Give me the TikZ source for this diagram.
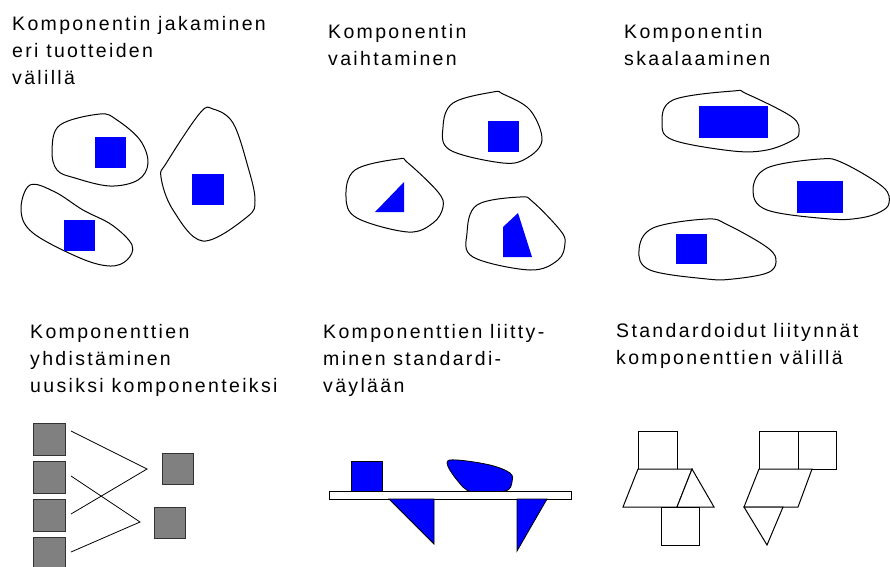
\documentclass[tikz,border=0pt]{standalone}
\usepackage{fontspec}
\setmainfont[LetterSpace=12]{Liberation Sans}
\definecolor{cblue}{HTML}{0000FF}
\definecolor{cgrey}{HTML}{808080}
\begin{document}
\begin{tikzpicture}[x=1pt,y=-1pt,
  lbl/.style={anchor=base west,align=left,inner sep=0pt,font=\fontsize{19.5}{27}\selectfont},
  blob/.style={draw=black,line width=1pt,fill=white},
  bluefill/.style={fill=cblue,draw=none},
  blueout/.style={fill=cblue,draw=black,line width=0.8pt},
  grey/.style={fill=cgrey,draw=black!80,line width=1pt},
  wire/.style={draw=black,line width=0.8pt},
  plain/.style={draw=black,line width=1pt,fill=white}]
\useasboundingbox (0,0) rectangle (890,566);
% texts (anchored at the baseline of the last line)
\node[lbl] (t1) at (12,84) {Komponentin jakaminen\\eri tuotteiden\\välillä};
\node[lbl] (t2) at (328,65) {Komponentin\\vaihtaminen};
\node[lbl] (t3) at (624,65) {Komponentin\\skaalaaminen};
\node[lbl] (t4) at (30,392) {Komponenttien\\yhdistäminen\\uusiksi komponenteiksi};
\node[lbl] (t5) at (323,392) {Komponenttien liitty-\\minen standardi-\\väylään};
\node[lbl] (t6) at (616,364) {Standardoidut liitynnät\\komponenttien välillä};
% panel 1
\draw[blob] plot[smooth cycle,tension=0.6] coordinates {(60,125) (100,114) (117,120) (140,140) (148,163) (138,180) (110,186) (75,178) (57,170) (52,150)};
\fill[bluefill] (95,137) rectangle (126,168);
\draw[blob] plot[smooth cycle,tension=0.6] coordinates {(30,185) (55,192) (83,210) (112,225) (132,245) (127,260) (110,266) (80,258) (33,233) (21,210)};
\fill[bluefill] (64,220) rectangle (95,251);
\draw[blob] plot[smooth cycle,tension=0.6] coordinates {(213,109) (233,123) (248,167) (255,200) (247,217) (203,241) (173,210) (161,177) (167,162) (200,113)};
\fill[bluefill] (192,174) rectangle (224,205);
% panel 2
\draw[blob] plot[smooth cycle,tension=0.6] coordinates {(453,103) (493,92) (503,94) (530,110) (542,140) (527,158) (503,163) (450,150) (443,127)};
\fill[bluefill] (488,121) rectangle (519,152);
\draw[blob] plot[smooth cycle,tension=0.6] coordinates {(355,170) (398,159) (408,163) (438,192) (443,207) (433,223) (408,232) (357,218) (346,197)};
\fill[bluefill] (375,212) -- (404,182) -- (404,212) -- cycle;
\draw[blob] plot[smooth cycle,tension=0.6] coordinates {(477,205) (520,197) (533,202) (560,230) (565,243) (558,260) (530,270) (473,257) (467,233)};
\fill[bluefill] (503,227) -- (518,213) -- (532,257) -- (503,257) -- cycle;
% panel 3
\draw[blob] plot[smooth cycle,tension=0.6] coordinates {(673,100) (733,91) (747,94) (792,117) (799,132) (793,140) (767,150) (733,151) (673,140) (662,123)};
\fill[bluefill] (699,106) rectangle (768,138);
\draw[blob] plot[smooth cycle,tension=0.6] coordinates {(767,168) (820,159) (843,163) (883,187) (889,203) (880,212) (860,218) (830,219) (767,210) (753,190)};
\fill[bluefill] (797,181) rectangle (843,213);
\draw[blob] plot[smooth cycle,tension=0.6] coordinates {(653,228) (707,219) (728,225) (768,248) (776,262) (767,273) (733,279) (707,279) (650,270) (639,250)};
\fill[bluefill] (676,234) rectangle (707,264);
% panel 4
\node[grey,minimum size=32pt,inner sep=0pt,anchor=north west] (g1) at (33,423) {};
\node[grey,minimum size=32pt,inner sep=0pt,anchor=north west] (g2) at (33,461) {};
\node[grey,minimum size=32pt,inner sep=0pt,anchor=north west] (g3) at (33,499) {};
\node[grey,minimum size=32pt,inner sep=0pt,anchor=north west] (g4) at (33,537) {};
\node[grey,minimum size=31pt,inner sep=0pt,anchor=north west] (r1) at (162,453) {};
\node[grey,minimum size=31pt,inner sep=0pt,anchor=north west] (r2) at (154,507) {};
\coordinate (j1) at (147,469);
\coordinate (j2) at (140,522);
\coordinate (s1) at (71,431);
\coordinate (s2) at (71,476);
\coordinate (s3) at (71,514);
\coordinate (s4) at (71,552);
\draw[wire] (s1) -- (j1) -- (s3);
\draw[wire] (s2) -- (j2) -- (s4);
% panel 5
\draw[blueout] (351,461) rectangle (382,492);
\draw[blueout] plot[smooth cycle,tension=0.6] coordinates {(447,463) (457,460) (490,465) (510,473) (512,482) (505,491) (472,492) (457,480)};
\draw[plain] (329,491) rectangle (571,499);
\draw[blueout] (389,499) -- (434,499) -- (434,544) -- cycle;
\draw[blueout] (517,499) -- (547,499) -- (517,551) -- cycle;
% panel 6
\draw[plain] (638,431) rectangle (677,469);
\draw[plain] (638,469) -- (692,469) -- (677,507) -- (623,507) -- cycle;
\draw[plain] (692,469) -- (714,507) -- (677,507) -- cycle;
\draw[plain] (661,507) rectangle (699,545);
\draw[plain] (759,431) rectangle (798,469);
\draw[plain] (798,431) rectangle (836,469);
\draw[plain] (759,469) -- (812,469) -- (798,507) -- (744,507) -- cycle;
\draw[plain] (744,507) -- (783,507) -- (767,545) -- cycle;
\end{tikzpicture}
\end{document}
